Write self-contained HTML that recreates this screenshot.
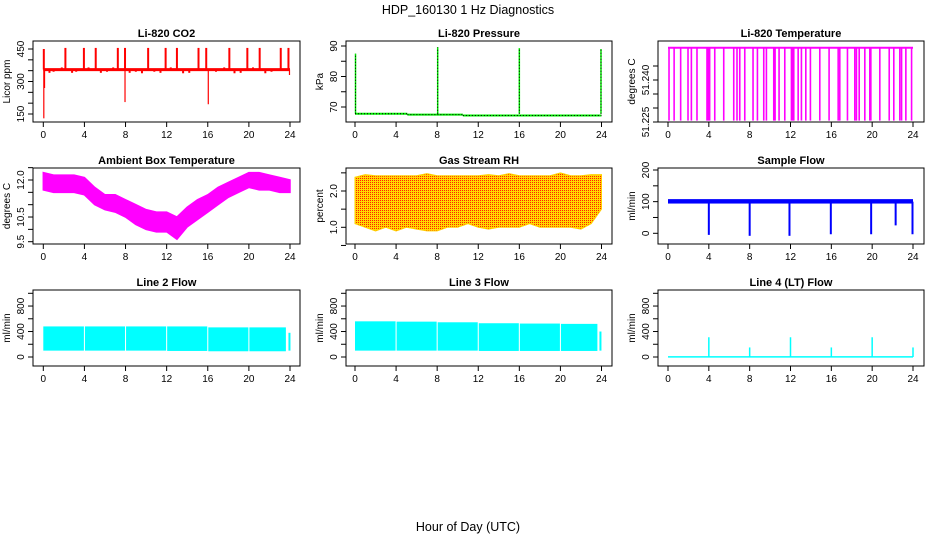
<!DOCTYPE html>
<html><head><meta charset="utf-8"><style>
html,body{margin:0;padding:0;background:#fff;}
svg{display:block;font-family:"Liberation Sans",sans-serif;}
</style></head><body>
<svg id="chart" width="936" height="540" viewBox="0 0 936 540">
<defs>
<pattern id="rhpat" width="2" height="2" patternUnits="userSpaceOnUse">
<rect width="2" height="2" fill="#ffd800"/><rect width="1" height="1" fill="#ff2000"/>
</pattern>
</defs>
<text x="468" y="14" text-anchor="middle" font-size="12.5">HDP_160130  1 Hz Diagnostics</text>
<text x="468" y="531" text-anchor="middle" font-size="12.5">Hour of Day (UTC)</text>
</svg>
<script>
// ---- data ----
const xTicks = [0,4,8,12,16,20,24];
const co2Base = 355;
const co2SpikeT = [0.05,2.15,3.95,5.1,7.25,7.95,10.2,11.9,13.0,15.1,15.85,18.1,19.85,21.05,23.1,23.85];
const co2SpikeV = [450,455,455,455,455,455,455,455,455,455,455,455,455,455,455,455];
const co2DipT = [0.05,0.12,7.95,16.05,23.95];
const co2DipV = [130,270,205,195,330];
const co2BumpT = [0.6,1.0,1.8,2.8,3.2,4.4,5.6,6.2,6.8,8.4,9.0,9.6,10.8,11.4,12.4,13.6,14.2,16.8,17.6,18.6,19.2,20.4,21.6,22.2,22.6];
const co2BumpV = [340,345,365,340,345,365,340,345,365,340,345,338,345,340,365,338,340,345,365,338,340,365,338,345,360];
const presStepT = [0,5.1,10.5,24];
const presStepV = [67.8,67.5,67.2];
const presSpikeT = [0.05,8.05,16.0,23.95];
const presSpikeV = [87.5,89.6,89.3,89.0];
const tempTop = 51.2515;
const tempBottom = 51.2255;
const tempDropT = [0.1,0.6,1.24,1.96,2.29,2.84,3.82,3.95,4.08,4.58,5.46,6.44,6.76,7.03,7.52,8.33,8.76,9.38,9.64,10.36,10.49,10.88,11.44,12.09,12.19,12.32,12.75,13.07,13.5,13.95,14.87,15.78,16.67,16.83,17.58,18.3,18.46,18.73,19.28,19.77,19.87,20.75,21.67,22.12,22.71,22.88,23.3,23.86];
const ambHours = [0,1,2,3,4,5,6,7,8,9,10,11,12,13,14,15,16,17,18,19,20,21,22,23,24];
const ambHi = [12.3,12.2,12.2,12.2,12.1,11.7,11.4,11.4,11.2,11.0,10.8,10.7,10.7,10.5,10.9,11.2,11.4,11.7,11.9,12.1,12.3,12.3,12.2,12.1,12.0];
const ambLo = [11.6,11.5,11.5,11.5,11.4,11.0,10.8,10.7,10.5,10.2,10.0,9.9,9.9,9.6,10.1,10.4,10.7,11.0,11.3,11.5,11.7,11.6,11.6,11.5,11.5];
const rhHi = [2.38,2.45,2.42,2.42,2.42,2.42,2.42,2.48,2.42,2.42,2.42,2.42,2.42,2.45,2.42,2.48,2.42,2.42,2.42,2.42,2.5,2.42,2.42,2.45,2.45];
const rhLo = [1.1,1.0,0.9,1.0,0.9,1.0,0.95,0.9,0.9,1.0,1.0,1.1,1.0,0.95,1.0,1.0,1.0,1.1,1.0,1.0,1.0,1.0,0.95,1.1,1.5];
const sfBase = 100;
const sfDipT = [4.0,8.0,11.9,15.95,19.9,22.3,23.95];
const sfDipV = [-5,-8,-8,-3,-3,25,-3];
const segStart = [0,4.05,8.05,12.05,16.05,20.05];
const segEnd = [3.95,7.95,11.95,15.95,19.95,23.6];
const l2Top = [480,480,480,480,465,465];
const l2Bot = [100,100,100,95,90,90];
const l3Top = [560,555,545,530,525,520];
const l3Bot = [100,100,100,95,95,95];
const l4SpikeT = [4,8,12,16,20,24];
const l4SpikeV = [310,150,310,150,310,150];

// ---- layout ----
const NS = "http://www.w3.org/2000/svg";
const svg = document.getElementById('chart');
const cols = [{x0:33,x1:300,h0:43.3,h24:290},{x0:346,x1:612,h0:355,h24:601.5},{x0:658,x1:924,h0:668,h24:913}];
const rows = [{y0:41,y1:122},{y0:168,y1:244},{y0:290,y1:366}];
function el(tag, attrs, parent){const e=document.createElementNS(NS,tag);for(const k in attrs)e.setAttribute(k,attrs[k]);(parent||svg).appendChild(e);return e;}

function panel(ci, ri, name, title, ylab, v1, p1, v2, p2, yticks, ylabels){
  const c=cols[ci], r=rows[ri];
  const g=el('g',{});
  
  
  const xs=h=>c.h0+(c.h24-c.h0)*h/24;
  const ys=v=>p1+(v-v1)*(p2-p1)/(v2-v1);
  const t=el('text',{x:(c.x0+c.x1)/2,y:r.y0-4,'text-anchor':'middle','font-size':'11','font-weight':'bold'},g);
  t.textContent=title;
  
  
  const yl=el('text',{x:0,y:0,'text-anchor':'middle','font-size':'10',transform:`translate(${c.x0-23},${(r.y0+r.y1)/2}) rotate(-90)`},g);
  yl.textContent=ylab;
  
  
  const ax=el('g',{stroke:'#000','stroke-width':'1'},g);
  
  
  xTicks.forEach(h=>{
    el('line',{x1:xs(h),x2:xs(h),y1:r.y1,y2:r.y1+5},ax);
    const tx=el('text',{x:xs(h),y:r.y1+16,'text-anchor':'middle','font-size':'10',stroke:'none'},ax);
    tx.textContent=h;
  });
  const ay=el('g',{stroke:'#000','stroke-width':'1'},g);
  
  
  yticks.forEach((v,i)=>{
    el('line',{x1:c.x0-5,x2:c.x0,y1:ys(v),y2:ys(v)},ay);
    if(ylabels[i]!==''){
      const tx=el('text',{x:0,y:0,'text-anchor':'middle','font-size':'10',stroke:'none',transform:`translate(${c.x0-9},${ys(v)}) rotate(-90)`},ay);
      tx.textContent=ylabels[i];
    }
  });
  const plot=el('g',{},g);
  
  
  const box=el('rect',{x:c.x0,y:r.y0,width:c.x1-c.x0,height:r.y1-r.y0,fill:'none',stroke:'#000','stroke-width':'1'},g);
  
  
  return {xs,ys,plot};
}

// CO2
{const p=panel(0,0,'co2','Li-820 CO2','Licor ppm',450,49,150,114,[150,200,250,300,350,400,450],['150','','','300','','','450']);
 el('line',{x1:p.xs(0),x2:p.xs(24),y1:p.ys(co2Base),y2:p.ys(co2Base),stroke:'#ff0000','stroke-width':'3'},p.plot);
 co2BumpT.forEach((t,i)=>{const l=el('line',{x1:p.xs(t),x2:p.xs(t),y1:p.ys(co2Base),y2:p.ys(co2BumpV[i]),stroke:'#ff0000','stroke-width':'2'},p.plot);
   });
 co2SpikeT.forEach((t,i)=>{const l=el('line',{x1:p.xs(t),x2:p.xs(t),y1:p.ys(co2Base),y2:p.ys(co2SpikeV[i]),stroke:'#ff0000','stroke-width':'2'},p.plot);
   });
 co2DipT.forEach((t,i)=>{const l=el('line',{x1:p.xs(t),x2:p.xs(t),y1:p.ys(co2Base),y2:p.ys(co2DipV[i]),stroke:'#ff0000','stroke-width':'1.2'},p.plot);
   });
}
// Pressure
{const p=panel(1,0,'pressure','Li-820 Pressure','kPa',90,46,70,107,[70,75,80,85,90],['70','','80','','90']);
 for(let i=0;i<presStepV.length;i++){
   el('line',{x1:p.xs(presStepT[i]),x2:p.xs(presStepT[i+1]),y1:p.ys(presStepV[i]),y2:p.ys(presStepV[i]),stroke:'#00ee00','stroke-width':'2'},p.plot);
   el('line',{x1:p.xs(presStepT[i]),x2:p.xs(presStepT[i+1]),y1:p.ys(presStepV[i]),y2:p.ys(presStepV[i]),stroke:'#000','stroke-width':'1','stroke-dasharray':'1 2'},p.plot);}
 presSpikeT.forEach((t,i)=>{const b=presStepV[0];
   el('line',{x1:p.xs(t),x2:p.xs(t),y1:p.ys(b),y2:p.ys(presSpikeV[i]),stroke:'#00ee00','stroke-width':'1.5'},p.plot);
   el('line',{x1:p.xs(t),x2:p.xs(t),y1:p.ys(b),y2:p.ys(presSpikeV[i]),stroke:'#000','stroke-width':'1','stroke-dasharray':'1 2'},p.plot);});
}
// Temperature
{const p=panel(2,0,'li820-temp','Li-820 Temperature','degrees C',51.240,80,51.225,122,[51.225,51.230,51.235,51.240,51.245],['51.225','','','51.240','']);
 el('line',{x1:p.xs(0),x2:p.xs(24),y1:p.ys(tempTop),y2:p.ys(tempTop),stroke:'#ff00ff','stroke-width':'2'},p.plot);
 tempDropT.forEach(t=>{const l=el('line',{x1:p.xs(t),x2:p.xs(t),y1:p.ys(tempTop),y2:p.ys(tempBottom),stroke:'#ff00ff','stroke-width':'1.6'},p.plot);
   });
}
// Ambient
{const p=panel(0,1,'ambient-temp','Ambient Box Temperature','degrees C',12.0,180,9.5,241.7,[9.5,10,10.5,11,11.5,12,12.5],['9.5','','10.5','','','12.0','']);
 let d='';ambHours.forEach((h,i)=>{d+=(i?'L':'M')+p.xs(h)+','+p.ys(ambHi[i]);});
 for(let i=ambHours.length-1;i>=0;i--)d+='L'+p.xs(ambHours[i])+','+p.ys(ambLo[i]);
 el('path',{d:d+'Z',fill:'#ff00ff',stroke:'#ff00ff','stroke-width':'1.5'},p.plot);
}
// RH
{const p=panel(1,1,'gas-rh','Gas Stream RH','percent',2.0,191,1.0,227.3,[0.5,1.0,1.5,2.0,2.5],['','1.0','','2.0','']);
 let d='';ambHours.forEach((h,i)=>{d+=(i?'L':'M')+p.xs(h)+','+p.ys(rhHi[i]);});
 for(let i=ambHours.length-1;i>=0;i--)d+='L'+p.xs(ambHours[i])+','+p.ys(rhLo[i]);
 el('path',{d:d+'Z',fill:'url(#rhpat)',stroke:'#ffd000','stroke-width':'1'},p.plot);
}
// Sample flow
{const p=panel(2,1,'sample-flow','Sample Flow','ml/min',200,170,0,233.3,[0,50,100,150,200],['0','','100','','200']);
 el('rect',{x:p.xs(0),y:p.ys(108),width:p.xs(24)-p.xs(0),height:p.ys(94)-p.ys(108),fill:'#0000ff'},p.plot);
 sfDipT.forEach((t,i)=>{const l=el('line',{x1:p.xs(t),x2:p.xs(t),y1:p.ys(sfBase),y2:p.ys(sfDipV[i]),stroke:'#0000ff','stroke-width':'2'},p.plot);
   });
}
// Line flows
function flowPanel(ci,name,title,tops,bots){
 const p=panel(ci,2,name,title,'ml/min',1000,293.3,0,357,[0,200,400,600,800,1000],['0','','400','','800','']);
 segStart.forEach((s,i)=>{const r=el('rect',{x:p.xs(s),y:p.ys(tops[i]),width:p.xs(segEnd[i])-p.xs(s),height:p.ys(bots[i])-p.ys(tops[i]),fill:'#00ffff'},p.plot);
   });
 return p;
}
{const p=flowPanel(0,'line2-flow','Line 2 Flow',l2Top,l2Bot);
 el('rect',{x:p.xs(23.85),y:p.ys(380),width:2,height:p.ys(100)-p.ys(380),fill:'#00ffff'},p.plot);}
{const p=flowPanel(1,'line3-flow','Line 3 Flow',l3Top,l3Bot);
 el('rect',{x:p.xs(23.8),y:p.ys(400),width:2,height:p.ys(100)-p.ys(400),fill:'#00ffff'},p.plot);}
{const p=panel(2,2,'line4-flow','Line 4 (LT) Flow','ml/min',1000,293.3,0,357,[0,200,400,600,800,1000],['0','','400','','800','']);
 el('line',{x1:p.xs(0),x2:p.xs(24),y1:p.ys(2),y2:p.ys(2),stroke:'#00ffff','stroke-width':'1.5'},p.plot);
 l4SpikeT.forEach((t,i)=>{const l=el('line',{x1:p.xs(t),x2:p.xs(t),y1:p.ys(0),y2:p.ys(l4SpikeV[i]),stroke:'#00ffff','stroke-width':'1.5'},p.plot);
   });
}
</script>
</body></html>
